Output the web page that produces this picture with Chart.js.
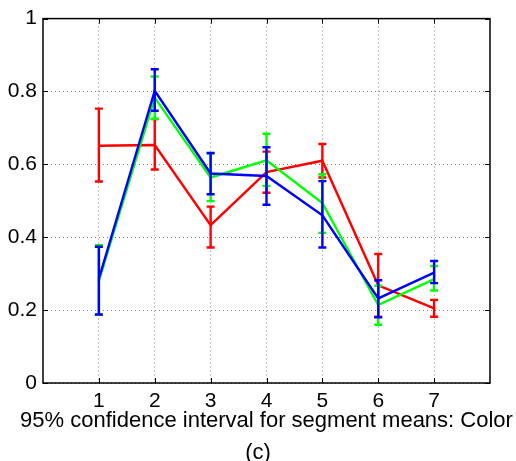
<!DOCTYPE html>
<html><head><meta charset="utf-8">
<script src="https://cdn.jsdelivr.net/npm/chart.js@4"></script>
<style>html,body{margin:0;padding:0;background:#fff}</style>
</head><body>
<canvas id="c" width="516" height="461"></canvas>
<script>
const xCategories = [1, 2, 3, 4, 5, 6, 7];
const yTicks = [0, 0.2, 0.4, 0.6, 0.8, 1];
const yTickLabels = ['0', '0.2', '0.4', '0.6', '0.8', '1'];

const redMean  = [0.651, 0.653, 0.433, 0.579, 0.610, 0.268, 0.205];
const redLow   = [0.553, 0.586, 0.372, 0.522, 0.564, 0.182, 0.182];
const redHigh  = [0.753, 0.724, 0.484, 0.635, 0.656, 0.354, 0.228];

const greenMean = [0.280, 0.783, 0.564, 0.611, 0.494, 0.214, 0.285];
const greenLow  = [0.187, 0.725, 0.499, 0.541, 0.412, 0.160, 0.254];
const greenHigh = [0.378, 0.841, 0.630, 0.684, 0.573, 0.267, 0.321];

const blueMean = [0.286, 0.802, 0.575, 0.568, 0.460, 0.232, 0.303];
const blueLow  = [0.188, 0.747, 0.518, 0.489, 0.372, 0.180, 0.274];
const blueHigh = [0.374, 0.861, 0.631, 0.647, 0.554, 0.282, 0.335];

const xTitle = '95% confidence interval for segment means: Color';
const subLabel = '(c)';

const FONT = '"Liberation Sans", Arial, Helvetica, sans-serif';

function mk(label, color, mean, low, high) {
  return {
    label, borderColor: color, backgroundColor: color, borderWidth: 2.4,
    pointRadius: 0, tension: 0, fill: false,
    data: xCategories.map((x, i) => ({x, y: mean[i]})),
    errLow: low, errHigh: high
  };
}

const errorBars = {
  id: 'errorBars',
  afterDatasetDraw(chart, args) {
    const ds = chart.data.datasets[args.index];
    const xs = chart.scales.x, ys = chart.scales.y, ctx = chart.ctx;
    ctx.save();
    ctx.strokeStyle = ds.borderColor;
    ctx.lineWidth = 2.4;
    ds.data.forEach((p, i) => {
      const px = xs.getPixelForValue(p.x);
      const lo = ys.getPixelForValue(ds.errLow[i]);
      const hi = ys.getPixelForValue(ds.errHigh[i]);
      ctx.beginPath();
      ctx.moveTo(px, lo); ctx.lineTo(px, hi);
      ctx.moveTo(px - 4, lo); ctx.lineTo(px + 4, lo);
      ctx.moveTo(px - 4, hi); ctx.lineTo(px + 4, hi);
      ctx.stroke();
    });
    ctx.restore();
  }
};

const frame = {
  id: 'frame',
  afterDraw(chart) {
    const {left, right, top, bottom} = chart.chartArea;
    const xs = chart.scales.x, ys = chart.scales.y, ctx = chart.ctx;
    ctx.save();
    ctx.strokeStyle = '#000';
    ctx.lineWidth = 1.5;
    ctx.strokeRect(left, top, right - left, bottom - top);
    ctx.lineWidth = 1;
    ctx.beginPath();
    yTicks.forEach(v => {
      const py = Math.round(ys.getPixelForValue(v)) + 0.5;
      ctx.moveTo(left, py); ctx.lineTo(left + 5, py);
      ctx.moveTo(right, py); ctx.lineTo(right - 5, py);
    });
    xCategories.forEach(v => {
      const px = Math.round(xs.getPixelForValue(v)) + 0.5;
      ctx.moveTo(px, bottom); ctx.lineTo(px, bottom - 5);
      ctx.moveTo(px, top); ctx.lineTo(px, top + 5);
    });
    ctx.stroke();
    // captions: axis label centred under the axes, panel label centred in the figure
    ctx.fillStyle = '#000';
    ctx.font = '22px ' + FONT;
    ctx.textAlign = 'center';
    ctx.textBaseline = 'middle';
    ctx.fillText(xTitle, (left + right) / 2, bottom + 38);
    ctx.fillText(subLabel, chart.width / 2, bottom + 70);
    ctx.restore();
  }
};

new Chart(document.getElementById('c'), {
  type: 'line',
  data: {
    datasets: [
      mk('blue', '#0000ff', blueMean, blueLow, blueHigh),
      mk('green', '#00ff00', greenMean, greenLow, greenHigh),
      mk('red', '#ff0000', redMean, redLow, redHigh)
    ]
  },
  options: {
    responsive: false,
    animation: false,
    devicePixelRatio: 1,
    layout: {padding: {top: 13, right: 26, left: 0, bottom: 0}},
    plugins: {legend: {display: false}, tooltip: {enabled: false}},
    scales: {
      x: {
        type: 'linear', min: 0, max: 8,
        afterBuildTicks: s => { s.ticks = xCategories.map(v => ({value: v})); },
        afterFit: s => { s.height = 78; },
        grid: {color: '#888', lineWidth: 1, drawTicks: false},
        border: {display: false, dash: [1, 3]},
        ticks: {color: '#000', padding: 6, maxRotation: 0, font: {family: FONT, size: 21}}
      },
      y: {
        min: 0, max: 1,
        afterBuildTicks: s => { s.ticks = yTicks.map(v => ({value: v})); },
        afterFit: s => { s.width = 43; },
        grid: {color: '#888', lineWidth: 1, drawTicks: false},
        border: {display: false, dash: [1, 3]},
        ticks: {
          color: '#000', padding: 6, font: {family: FONT, size: 21},
          callback: (v, i) => yTickLabels[i]
        }
      }
    }
  },
  plugins: [errorBars, frame]
});
</script>
</body></html>
